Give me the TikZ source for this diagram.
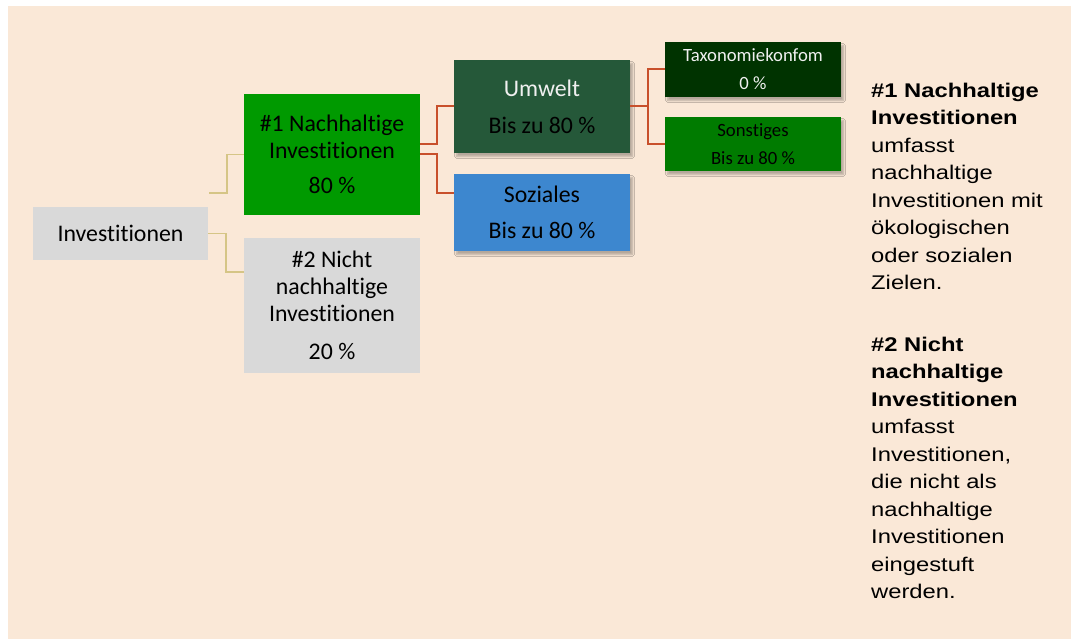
\documentclass[tikz,border=0pt]{standalone}
\usepackage{fontspec}
\setmainfont[Ligatures=NoCommon]{Carlito}
\newfontfamily\rfont[FakeStretch=1.2]{Liberation Sans}
\usetikzlibrary{calc,shadows.blur}
\definecolor{bgpeach}{HTML}{FAE8D7}
\definecolor{boxgray}{HTML}{D9D9D9}
\definecolor{greenA}{HTML}{009A00}
\definecolor{umweltc}{HTML}{255839}
\definecolor{sozc}{HTML}{3D87CF}
\definecolor{taxc}{HTML}{003300}
\definecolor{sonc}{HTML}{007B00}
\definecolor{linkorange}{HTML}{C8502B}
\definecolor{linktan}{HTML}{D5C586}
\definecolor{lighttext}{HTML}{F0F0F0}
\tikzset{
  box/.style={rectangle, inner sep=0pt, align=center, minimum width=176pt,
    font=\fontsize{23.8}{27}\selectfont, text=black},
  smallbox/.style={box, font=\fontsize{18.7}{22}\selectfont},
  shade/.style={blur shadow={shadow xshift=2.5pt, shadow yshift=-3.5pt,
    shadow blur steps=6, shadow blur radius=1.8pt, shadow opacity=28}},
  tanlink/.style={draw=linktan, line width=1.8pt},
  orlink/.style={draw=linkorange, line width=2pt},
  sidetext/.style={anchor=base west, inner sep=0pt, text width=195pt, align=left,
    font=\rfont\fontsize{19.8}{27.5}\selectfont}
}
\begin{document}
\begin{tikzpicture}[x=1pt,y=-1pt]
\useasboundingbox (0,0) rectangle (1071,639);
\fill[bgpeach] (8,6) rectangle (1071,639);

\node[box, fill=boxgray, minimum width=175pt, minimum height=53pt] (inv) at (120.5,233.5) {Investitionen};
\node[box, fill=greenA, minimum height=121pt] (n1) at (332,154.5) {\#1 Nachhaltige\\Investitionen\\[8pt]80 \%};
\node[box, fill=boxgray, minimum height=135pt] (n2) at (332,305.5) {\#2 Nicht\\nachhaltige\\Investitionen\\[11pt]20 \%};
\node[box, fill=umweltc, shade, minimum height=93pt] (umw) at (542,106.5) {\textcolor{lighttext}{Umwelt}\\[10pt]Bis zu 80 \%};
\node[box, fill=sozc, shade, minimum height=77pt] (soz) at (542,212.5) {Soziales\\[9pt]Bis zu 80 \%};
\node[smallbox, fill=taxc, shade, minimum height=55pt, text=lighttext] (tax) at (753,69.5) {Taxonomiekonfom\\[6pt]0 \%};
\node[smallbox, fill=sonc, shade, minimum height=54pt] (son) at (753,144) {Sonstiges\\[6pt]Bis zu 80 \%};

\coordinate (invtop) at (209,193);
\draw[tanlink] (invtop) -- ++(18,0) |- (n1.west);
\draw[tanlink] (inv.east) -- ++(18,0) |- ($(n2.north west)+(0,34)$);

\draw[orlink] ($(n1.east)+(0,-10)$) -- ++(17,0) |- (umw.west);
\draw[orlink] (n1.east) -- ++(17,0) |- ($(soz.west)+(0,-19)$);
\draw[orlink] (umw.east) -- ++(18,0) |- (tax.west);
\draw[orlink] (umw.east) -- ++(18,0) |- (son.west);

\node[sidetext] (txt1) at (871,97.5) {\bfseries \#1 Nachhaltige\\Investitionen\\\mdseries umfasst\\nachhaltige\\Investitionen mit\\ökologischen\\oder sozialen\\Zielen.};
\node[sidetext] (txt2) at (871,351) {\bfseries \#2 Nicht\\nachhaltige\\Investitionen\\\mdseries umfasst\\Investitionen,\\die nicht als\\nachhaltige\\Investitionen\\eingestuft\\werden.};
\end{tikzpicture}
\end{document}
